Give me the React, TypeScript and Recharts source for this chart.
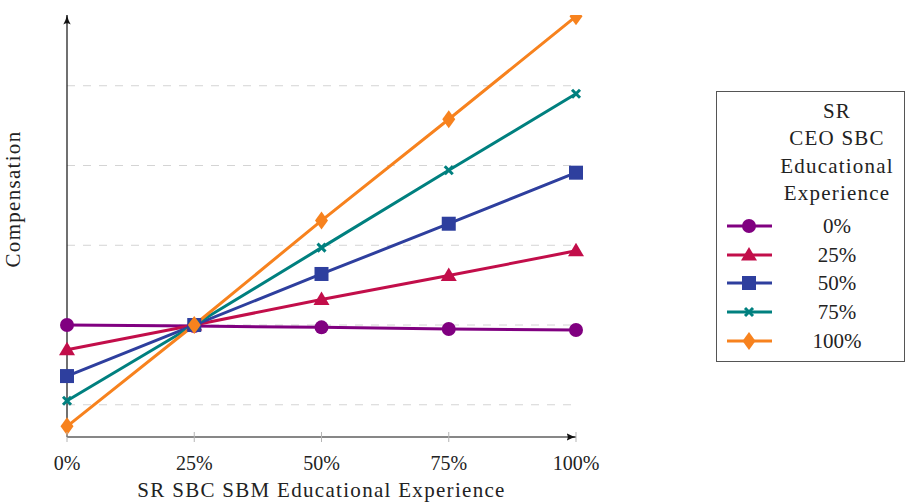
import React from 'react'
import { LineChart, Line, XAxis, YAxis, CartesianGrid } from 'recharts'

// x categories (share of SR SBC SBM educational experience)
const xCategories = ['0%', '25%', '50%', '75%', '100%']
const xPositions = [0, 25, 50, 75, 100]

// one series per level of CEO SBC educational experience
const seriesNames = ['0%', '25%', '50%', '75%', '100%']
const series0 = [0, -0.013, -0.029, -0.05, -0.063]
const series25 = [-0.31, 0, 0.32, 0.62, 0.93]
const series50 = [-0.64, 0, 0.64, 1.27, 1.91]
const series75 = [-0.95, 0, 0.97, 1.94, 2.9]
const series100 = [-1.27, 0, 1.31, 2.58, 3.87]

const gridTicks = [-1, 0, 1, 2, 3]
const yDomain: [number, number] = [-1.404, 3.887]
const legendTitle = ['SR', 'CEO SBC', 'Educational', 'Experience']
const xLabel = 'SR SBC SBM Educational Experience'
const yLabel = 'Compensation'

const SERIES = [
  { key: 's0', name: seriesNames[0], values: series0, color: '#800080', shape: 'circle' },
  { key: 's25', name: seriesNames[1], values: series25, color: '#c20e4a', shape: 'triangle' },
  { key: 's50', name: seriesNames[2], values: series50, color: '#2e3f9e', shape: 'square' },
  { key: 's75', name: seriesNames[3], values: series75, color: '#00807f', shape: 'cross' },
  { key: 's100', name: seriesNames[4], values: series100, color: '#f7821e', shape: 'diamond' },
]

const data = xPositions.map((x, i) => {
  const row: Record<string, number> = { x }
  SERIES.forEach((s) => {
    row[s.key] = s.values[i]
  })
  return row
})

const FONT = "'Liberation Serif', 'DejaVu Serif', serif"
const LINE_W = 3

function Marker({ shape, cx, cy, color }: { shape: string; cx: number; cy: number; color: string }) {
  if (cx == null || cy == null) return null
  switch (shape) {
    case 'circle':
      return <circle cx={cx} cy={cy} r={7} fill={color} />
    case 'triangle':
      return <polygon points={`${cx},${cy - 8} ${cx - 8},${cy + 5.5} ${cx + 8},${cy + 5.5}`} fill={color} />
    case 'square':
      return <rect x={cx - 7} y={cy - 7} width={14} height={14} fill={color} />
    case 'cross':
      return (
        <g stroke={color} strokeWidth={3}>
          <line x1={cx - 4} y1={cy - 4} x2={cx + 4} y2={cy + 4} />
          <line x1={cx - 4} y1={cy + 4} x2={cx + 4} y2={cy - 4} />
        </g>
      )
    case 'diamond':
      return <polygon points={`${cx},${cy - 9} ${cx + 6.5},${cy} ${cx},${cy + 9} ${cx - 6.5},${cy}`} fill={color} />
    default:
      return null
  }
}

const XTick = (props: any) => {
  const { x, y, payload } = props
  const label = xCategories[xPositions.indexOf(payload.value)]
  return (
    <g>
      <line x1={x} x2={x} y1={y - 5} y2={y + 5} stroke="#b5b5b5" strokeWidth={1} />
      <text x={x} y={y + 33} textAnchor="middle" style={{ fontFamily: FONT }} fontSize={20} fill="#222">
        {label}
      </text>
    </g>
  )
}

// grid rows at the (hidden) y ticks
const gridRows = ({ offset }: any) =>
  gridTicks.map(
    (t) => offset.top + ((yDomain[1] - t) / (yDomain[1] - yDomain[0])) * offset.height
  )

function ChartLegend() {
  return (
    <div
      style={{
        position: 'absolute',
        left: 716,
        top: 91,
        width: 187,
        height: 269,
        border: '1px solid #555',
        fontFamily: FONT,
        color: '#222',
        background: '#fff',
      }}
    >
      {legendTitle.map((t, i) => (
        <div
          key={t}
          style={{
            position: 'absolute',
            left: 40,
            width: 160,
            top: 19 + i * 27.3 - 14,
            height: 28,
            lineHeight: '28px',
            textAlign: 'center',
            fontSize: 21,
            letterSpacing: 1.2,
            whiteSpace: 'nowrap',
          }}
        >
          {t}
        </div>
      ))}
      {SERIES.map((s, i) => (
        <div
          key={s.key}
          style={{ position: 'absolute', left: 0, top: 134 + i * 28.7 - 14, width: 187, height: 28 }}
        >
          <svg width={60} height={28} style={{ position: 'absolute', left: 0, top: 0 }}>
            <line x1={10} x2={55} y1={14} y2={14} stroke={s.color} strokeWidth={LINE_W} />
            <Marker shape={s.shape} cx={32} cy={14} color={s.color} />
          </svg>
          <div
            style={{
              position: 'absolute',
              left: 60,
              width: 120,
              top: 0,
              lineHeight: '28px',
              textAlign: 'center',
              fontSize: 21,
            }}
          >
            {s.name}
          </div>
        </div>
      ))}
    </div>
  )
}

export default function App() {
  return (
    <div style={{ position: 'relative', width: 905, height: 503, background: '#fff', fontFamily: FONT }}>
      <style>{'body{margin:0}'}</style>
      <LineChart
        width={905}
        height={503}
        data={data}
        margin={{ top: 15, right: 329, bottom: 0, left: 66 }}
      >
        <defs>
          <marker
            id="axisArrow"
            viewBox="0 0 10 8"
            refX={9.5}
            refY={4}
            markerWidth={10}
            markerHeight={8}
            markerUnits="userSpaceOnUse"
            orient="auto-start-reverse"
          >
            <path d="M0,0.3 Q5,3.2 10,4 Q5,4.8 0,7.7 Q2.5,4 0,0.3 Z" fill="#111" />
          </marker>
        </defs>
        <CartesianGrid
          vertical={false}
          horizontalCoordinatesGenerator={gridRows}
          strokeDasharray="8 8"
          stroke="#d4d4d4"
        />
        <XAxis
          dataKey="x"
          type="number"
          domain={[0, 100]}
          ticks={xPositions}
          tickSize={0}
          tickMargin={0}
          tickLine={false}
          tick={<XTick />}
          height={66}
          axisLine={{ stroke: '#111', strokeWidth: 1.2, markerEnd: 'url(#axisArrow)' }}
          interval={0}
          label={{
            content: ({ viewBox }: any) => (
              <text
                x={viewBox.x + viewBox.width / 2}
                y={viewBox.y + viewBox.height - 6}
                textAnchor="middle"
                style={{ fontFamily: FONT }}
                fontSize={21}
                letterSpacing={1.3}
                fill="#222"
              >
                {xLabel}
              </text>
            ),
          }}
        />
        <YAxis
          type="number"
          domain={yDomain}
          allowDataOverflow
          ticks={gridTicks}
          tick={false}
          tickLine={false}
          width={1}
          axisLine={{ stroke: '#111', strokeWidth: 1.2, markerStart: 'url(#axisArrow)' }}
          label={{
            content: () => (
              <text
                x={20}
                y={199}
                transform="rotate(-90, 20, 199)"
                textAnchor="middle"
                style={{ fontFamily: FONT }}
                fontSize={21}
                letterSpacing={1.3}
                fill="#222"
              >
                {yLabel}
              </text>
            ),
          }}
        />
        {SERIES.map((s) => (
          <Line
            key={s.key}
            dataKey={s.key}
            name={s.name}
            type="linear"
            stroke={s.color}
            strokeWidth={LINE_W}
            isAnimationActive={false}
            dot={(p: any) => (
              <Marker key={`${s.key}-${p.index}`} shape={s.shape} cx={p.cx} cy={p.cy} color={s.color} />
            )}
            activeDot={false}
          />
        ))}
      </LineChart>
      <ChartLegend />
    </div>
  )
}
